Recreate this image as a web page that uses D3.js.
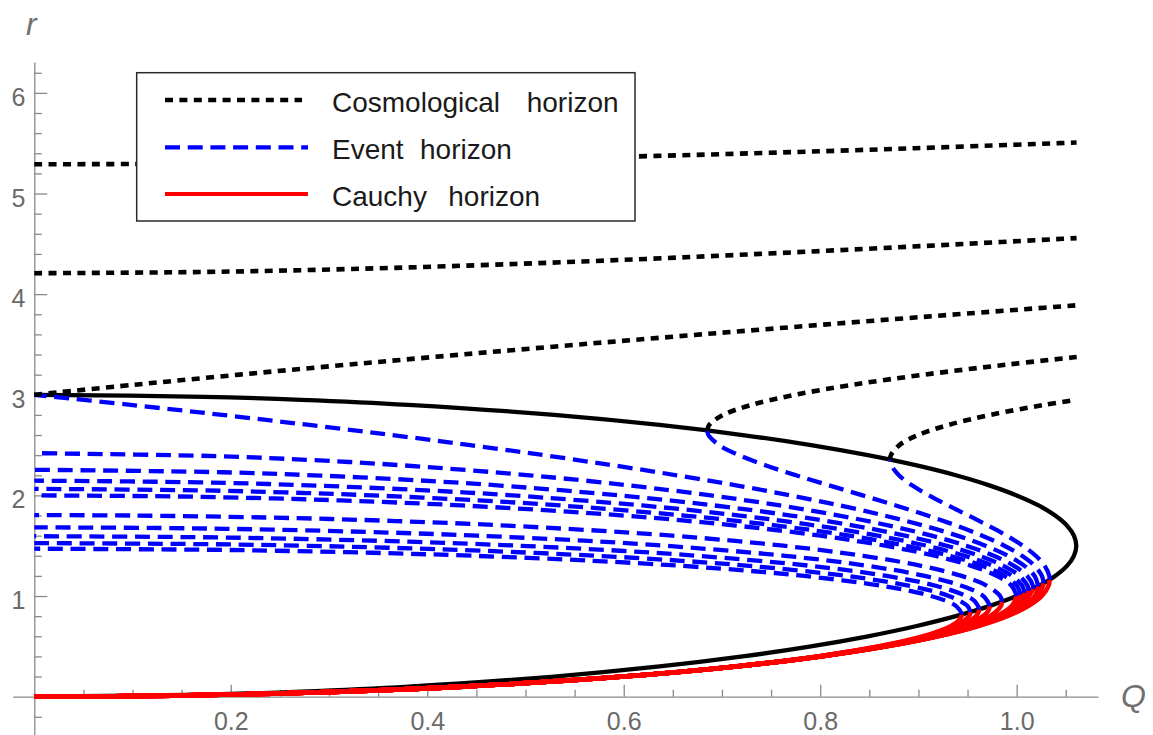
<!DOCTYPE html>
<html>
<head>
<meta charset="utf-8">
<script src="https://cdn.jsdelivr.net/npm/d3@7"></script>
<style>
  html, body { margin: 0; padding: 0; background: #fff; }
  svg { display: block; font-family: "Liberation Sans", Arial, sans-serif; }
</style>
</head>
<body>
<svg id="chart" width="1153" height="735"></svg>
<script>
// Horizons of the charged black hole (M = 1) versus charge Q, one branch set per cosmological constant.
// Every series is a list of [Q, r] points.

// Extremal locus where two horizons coincide
const extremal = [[0,0],[0.1726,0.02],[0.2716,0.05],[0.3808,0.1],[0.5292,0.2],[0.6364,0.3],[0.7211,0.4],[0.7906,0.5],[0.8485,0.6],[0.8972,0.7],[0.9381,0.8],[0.9721,0.9],[1.0,1.0],[1.0223,1.1],[1.0392,1.2],[1.0512,1.3],[1.0583,1.4],[1.0607,1.5],[1.0583,1.6],[1.0512,1.7],[1.0392,1.8],[1.0223,1.9],[1.0,2.0],[0.9721,2.1],[0.9381,2.2],[0.8972,2.3],[0.8485,2.4],[0.7906,2.5],[0.7211,2.6],[0.6364,2.7],[0.5292,2.8],[0.3808,2.9],[0.2716,2.95],[0.1726,2.98],[0,3.0]];

// Cauchy horizons
const cauchyAdS5 = [[0,0],[0.1411,0.01],[0.2431,0.03],[0.3122,0.05],[0.4359,0.1],[0.5998,0.2],[0.7132,0.3],[0.7973,0.4],[0.86,0.5],[0.9047,0.6],[0.9327,0.7],[0.9406,0.75],[0.9446,0.818]];
const cauchyAdS4 = [[0,0],[0.1411,0.01],[0.2431,0.03],[0.3122,0.05],[0.4359,0.1],[0.5998,0.2],[0.7134,0.3],[0.7979,0.4],[0.8612,0.5],[0.907,0.6],[0.937,0.7],[0.9515,0.8],[0.9529,0.8413]];
const cauchyAdS3 = [[0,0],[0.1411,0.01],[0.2431,0.03],[0.3122,0.05],[0.4359,0.1],[0.5999,0.2],[0.7136,0.3],[0.7984,0.4],[0.8624,0.5],[0.9094,0.6],[0.9413,0.7],[0.9587,0.8],[0.9622,0.869]];
const cauchyAdS2 = [[0,0],[0.1411,0.01],[0.2431,0.03],[0.3122,0.05],[0.4359,0.1],[0.5999,0.2],[0.7138,0.3],[0.7989,0.4],[0.8636,0.5],[0.9118,0.6],[0.9455,0.7],[0.9658,0.8],[0.9709,0.85],[0.9728,0.902]];
const cauchyAdS1 = [[0,0],[0.1411,0.01],[0.2431,0.03],[0.3122,0.05],[0.4359,0.1],[0.6,0.2],[0.714,0.3],[0.7995,0.4],[0.8648,0.5],[0.9142,0.6],[0.9497,0.7],[0.9728,0.8],[0.9839,0.9],[0.9851,0.944]];
const cauchyFlat = [[0,0],[0.1411,0.01],[0.2431,0.03],[0.3122,0.05],[0.4359,0.1],[0.6,0.2],[0.7141,0.3],[0.8,0.4],[0.866,0.5],[0.9165,0.6],[0.9539,0.7],[0.9798,0.8],[0.995,0.9],[1.0,1.0]];
const cauchyDS1 = [[0,0],[0.1411,0.01],[0.2431,0.03],[0.3122,0.05],[0.4359,0.1],[0.6,0.2],[0.7142,0.3],[0.8001,0.4],[0.8663,0.5],[0.917,0.6],[0.9549,0.7],[0.9813,0.8],[0.9974,0.9],[1.0038,1.0155]];
const cauchyDS2 = [[0,0],[0.1411,0.01],[0.2431,0.03],[0.3122,0.05],[0.4359,0.1],[0.6,0.2],[0.7143,0.3],[0.8002,0.4],[0.8666,0.5],[0.9176,0.6],[0.9558,0.7],[0.9829,0.8],[0.9999,0.9],[1.0079,1.0327]];
const cauchyDS3 = [[0,0],[0.1411,0.01],[0.2431,0.03],[0.3122,0.05],[0.4359,0.1],[0.6,0.2],[0.7143,0.3],[0.8004,0.4],[0.8668,0.5],[0.9181,0.6],[0.9567,0.7],[0.9844,0.8],[1.0023,0.9],[1.0122,1.0517]];
const cauchyDS4 = [[0,0],[0.1411,0.01],[0.2431,0.03],[0.3122,0.05],[0.4359,0.1],[0.6,0.2],[0.7143,0.3],[0.8005,0.4],[0.8671,0.5],[0.9186,0.6],[0.9577,0.7],[0.986,0.8],[1.0047,0.9],[1.0168,1.0733]];
const cauchyDS5 = [[0,0],[0.1411,0.01],[0.2431,0.03],[0.3122,0.05],[0.4359,0.1],[0.6,0.2],[0.7144,0.3],[0.8006,0.4],[0.8674,0.5],[0.9191,0.6],[0.9586,0.7],[0.9875,0.8],[1.0071,0.9],[1.0184,1.0],[1.0219,1.098]];
const cauchyDS6 = [[0,0],[0.1411,0.01],[0.2431,0.03],[0.3122,0.05],[0.4359,0.1],[0.6001,0.2],[0.7144,0.3],[0.8007,0.4],[0.8676,0.5],[0.9197,0.6],[0.9595,0.7],[0.989,0.8],[1.0095,0.9],[1.022,1.0],[1.0274,1.1275]];
const cauchyDS7 = [[0,0],[0.1411,0.01],[0.2431,0.03],[0.3122,0.05],[0.4359,0.1],[0.6001,0.2],[0.7144,0.3],[0.8008,0.4],[0.8679,0.5],[0.9202,0.6],[0.9604,0.7],[0.9906,0.8],[1.0119,0.9],[1.0256,1.0],[1.0324,1.1],[1.0336,1.163]];

// Event horizons
const eventAdS5 = [[0.9446,0.818],[0.9384,0.9],[0.9129,1.0],[0.8637,1.1],[0.7838,1.2],[0.7284,1.25],[0.6588,1.3],[0.5691,1.35],[0.4469,1.4],[0.3437,1.43],[0.2465,1.45],[0.1764,1.46],[0,1.4703]];
const eventAdS4 = [[0.9529,0.8413],[0.95,0.9],[0.9309,1.0],[0.8915,1.1],[0.8268,1.2],[0.7275,1.3],[0.6593,1.35],[0.5725,1.4],[0.4562,1.45],[0.3604,1.48],[0.2739,1.5],[0.1799,1.515],[0,1.5261]];
const eventAdS3 = [[0.9622,0.869],[0.9571,0.95],[0.9487,1.0],[0.9185,1.1],[0.8676,1.2],[0.7902,1.3],[0.6752,1.4],[0.5962,1.45],[0.4937,1.5],[0.382,1.54],[0.2599,1.57],[0.1632,1.585],[0,1.5946]];
const eventAdS2 = [[0.9728,0.902],[0.9661,1.0],[0.9447,1.1],[0.9065,1.2],[0.8483,1.3],[0.7641,1.4],[0.6423,1.5],[0.5592,1.55],[0.4507,1.6],[0.364,1.63],[0.2412,1.66],[0.14,1.675],[0,1.6825]];
const eventAdS1 = [[0.9851,0.944],[0.9832,1.0],[0.9702,1.1],[0.9439,1.2],[0.9027,1.3],[0.8438,1.4],[0.7624,1.5],[0.6493,1.6],[0.4812,1.7],[0.3534,1.75],[0.2387,1.78],[0.1004,1.8],[0,1.8042]];
const eventFlat = [[1.0,1.0],[0.995,1.1],[0.9798,1.2],[0.9539,1.3],[0.9165,1.4],[0.866,1.5],[0.8,1.6],[0.7141,1.7],[0.6,1.8],[0.4359,1.9],[0.3122,1.95],[0.2431,1.97],[0.1411,1.99],[0,2.0]];
const eventDS1 = [[1.0038,1.0155],[1.0004,1.1],[0.9876,1.2],[0.965,1.3],[0.9319,1.4],[0.8874,1.5],[0.8298,1.6],[0.7562,1.7],[0.6616,1.8],[0.5353,1.9],[0.4523,1.95],[0.3443,2.0],[0.2547,2.03],[0.1683,2.05],[0,2.0652]];
const eventDS2 = [[1.0079,1.0327],[1.0058,1.1],[0.9953,1.2],[0.9759,1.3],[0.9471,1.4],[0.9083,1.5],[0.8585,1.6],[0.7961,1.7],[0.718,1.8],[0.6189,1.9],[0.4869,2.0],[0.3989,2.05],[0.2795,2.1],[0.1675,2.13],[0,2.1465]];
const eventDS3 = [[1.0122,1.0517],[1.0112,1.1],[1.003,1.2],[0.9866,1.3],[0.962,1.4],[0.9287,1.5],[0.8864,1.6],[0.834,1.7],[0.7702,1.8],[0.6925,1.9],[0.5963,2.0],[0.4714,2.1],[0.3903,2.15],[0.2838,2.2],[0.1914,2.23],[0,2.2547]];
const eventDS4 = [[1.0168,1.0733],[1.0166,1.1],[1.0107,1.2],[0.9973,1.3],[0.9766,1.4],[0.9487,1.5],[0.9133,1.6],[0.8703,1.7],[0.8192,1.8],[0.759,1.9],[0.6885,2.0],[0.6052,2.1],[0.5041,2.2],[0.373,2.3],[0.2849,2.35],[0.1862,2.39],[0,2.4199]];
const eventDS5 = [[1.0219,1.098],[1.0182,1.2],[1.0079,1.3],[0.9911,1.4],[0.9682,1.5],[0.9395,1.6],[0.9052,1.7],[0.8653,1.8],[0.8202,1.9],[0.7698,2.0],[0.7144,2.1],[0.6539,2.2],[0.5886,2.3],[0.5185,2.4],[0.4436,2.5],[0.364,2.6],[0.2798,2.7],[0.1911,2.8],[0.0978,2.9],[0,3.0]];
const eventDS6 = [[1.0274,1.1275],[1.0257,1.2],[1.0183,1.3],[1.0054,1.4],[0.9874,1.5],[0.965,1.6],[0.9387,1.7],[0.9092,1.8],[0.877,1.9],[0.8433,2.0],[0.8089,2.1],[0.7753,2.2],[0.7441,2.3],[0.7173,2.4],[0.6972,2.5],[0.6863,2.6],[0.685,2.645]];
const eventDS7 = [[1.0336,1.163],[1.0332,1.2],[1.0286,1.3],[1.0194,1.4],[1.0062,1.5],[0.9899,1.6],[0.9711,1.7],[0.951,1.8],[0.9304,1.9],[0.9108,2.0],[0.8935,2.1],[0.8801,2.2],[0.8724,2.3],[0.8711,2.356]];

// Cosmological horizons (only those below r = 6.3)
const cosmoDS3 = [[0,5.2904],[0.146,5.295],[0.2107,5.3],[0.3717,5.32],[0.532,5.35],[0.7319,5.4],[0.896,5.45],[1.0415,5.5],[1.061,5.507]];
const cosmoDS4 = [[0,4.2084],[0.1683,4.22],[0.3229,4.25],[0.4897,4.3],[0.6219,4.35],[0.7386,4.4],[0.8464,4.45],[0.9487,4.5],[1.0472,4.55],[1.061,4.557]];
const cosmoDS5 = [[0,3.0],[0.1022,3.1],[0.2088,3.2],[0.3198,3.3],[0.4352,3.4],[0.5549,3.5],[0.6788,3.6],[0.8071,3.7],[0.9395,3.8],[1.0073,3.85],[1.061,3.889]];
const cosmoDS6 = [[0.685,2.645],[0.687,2.7],[0.7013,2.8],[0.7304,2.9],[0.7746,3.0],[0.8334,3.1],[0.9057,3.2],[0.9903,3.3],[1.0562,3.37],[1.0611,3.375]];
const cosmoDS7 = [[0.8711,2.356],[0.872,2.4],[0.8806,2.5],[0.8997,2.6],[0.9304,2.7],[0.9732,2.8],[1.0283,2.9],[1.0604,2.95]];

const cauchyBranches = [cauchyAdS5, cauchyAdS4, cauchyAdS3, cauchyAdS2, cauchyAdS1, cauchyFlat,
                        cauchyDS1, cauchyDS2, cauchyDS3, cauchyDS4, cauchyDS5, cauchyDS6, cauchyDS7];
const eventBranches = [eventAdS5, eventAdS4, eventAdS3, eventAdS2, eventAdS1, eventFlat,
                       eventDS1, eventDS2, eventDS3, eventDS4, eventDS5, eventDS6, eventDS7];
const cosmoBranches = [cosmoDS3, cosmoDS4, cosmoDS5, cosmoDS6, cosmoDS7];

// Ticks
const xTickValues = [0.2, 0.4, 0.6, 0.8, 1.0];
const xTickLabels = ["0.2", "0.4", "0.6", "0.8", "1.0"];
const yTickValues = [1, 2, 3, 4, 5, 6];
const yTickLabels = ["1", "2", "3", "4", "5", "6"];

const legendLabels = [["Cosmological", "horizon"], ["Event", "horizon"], ["Cauchy", "horizon"]];

// ---------------------------------------------------------------
const svg = d3.select("#chart");

const x = d3.scaleLinear().domain([-0.0219, 1.0828]).range([12.8, 1098]);
const y = d3.scaleLinear().domain([-0.381, 6.307]).range([735, 62]);

const axisColor = "#8a8a8a";
const tickTextColor = "#6a6a6a";

const xMinor = d3.range(1, 22).map(i => i * 0.05).filter(v => Math.abs(v / 0.2 - Math.round(v / 0.2)) > 1e-6);
const yMinor = d3.range(-1, 32).map(i => i * 0.2).filter(v => Math.abs(v - Math.round(v)) > 1e-6);

function styleAxis(g) {
  g.selectAll("path.domain").attr("stroke", axisColor).attr("stroke-width", 1.3);
  g.selectAll(".tick line").attr("stroke", axisColor).attr("stroke-width", 1.3);
  g.selectAll(".tick text")
    .attr("fill", tickTextColor)
    .attr("font-family", "'Liberation Sans', Arial, sans-serif")
    .attr("font-size", 25);
  g.attr("font-family", null).attr("font-size", null);
}

// x axis (ticks point upward)
const gx = svg.append("g").attr("transform", `translate(0,${y(0)})`);
gx.call(d3.axisBottom(x).tickValues(xTickValues)
  .tickFormat((d, i) => xTickLabels[i]).tickSizeInner(-12).tickSizeOuter(0).tickPadding(15.5));
styleAxis(gx);
const gxMinor = svg.append("g").attr("transform", `translate(0,${y(0)})`);
gxMinor.call(d3.axisBottom(x).tickValues(xMinor).tickFormat("").tickSizeInner(-7).tickSizeOuter(0));
gxMinor.select("path.domain").remove();
styleAxis(gxMinor);

// y axis (ticks point right)
const gy = svg.append("g").attr("transform", `translate(${x(0)},0)`);
gy.call(d3.axisLeft(y).tickValues(yTickValues)
  .tickFormat((d, i) => yTickLabels[i]).tickSizeInner(-13).tickSizeOuter(0).tickPadding(8.8));
styleAxis(gy);
gy.selectAll(".tick text").attr("dy", "0.5em");
const gyMinor = svg.append("g").attr("transform", `translate(${x(0)},0)`);
gyMinor.call(d3.axisLeft(y).tickValues(yMinor).tickFormat("").tickSizeInner(-7.5).tickSizeOuter(0));
gyMinor.select("path.domain").remove();
styleAxis(gyMinor);

// axis labels
svg.append("text").attr("x", 26).attr("y", 35)
  .attr("font-family", "'Liberation Sans', Arial, sans-serif")
  .attr("font-style", "italic").attr("font-size", 32).attr("fill", "#707070").text("r");
svg.append("text").attr("x", 1121).attr("y", 707)
  .attr("font-family", "'Liberation Sans', Arial, sans-serif")
  .attr("font-style", "italic").attr("font-size", 32).attr("fill", "#707070").text("Q");

// curves
const line = d3.line().x(d => x(d[0])).y(d => y(d[1])).curve(d3.curveCatmullRom.alpha(0.5));

const styles = {
  cosmo:  { stroke: "#000000", width: 4.6, dash: "8,6.4" },
  event:  { stroke: "#0000ff", width: 4.3, dash: "15,7.7" },
  cauchy: { stroke: "#ff0000", width: 4.6, dash: null }
};

const plot = svg.append("g");

plot.append("path").datum(extremal)
  .attr("d", line).attr("fill", "none").attr("stroke", "#000").attr("stroke-width", 4.3);

function drawSet(data, st) {
  plot.append("g").selectAll("path").data(data).join("path")
    .attr("d", line).attr("fill", "none")
    .attr("stroke", st.stroke).attr("stroke-width", st.width)
    .attr("stroke-dasharray", st.dash).attr("stroke-linecap", "butt");
}
drawSet(cauchyBranches, styles.cauchy);
drawSet(eventBranches, styles.event);
drawSet(cosmoBranches, styles.cosmo);

// legend
const lg = svg.append("g");
lg.append("rect").attr("x", 136.7).attr("y", 72.7).attr("width", 498.3).attr("height", 148.3)
  .attr("fill", "#fff").attr("stroke", "#2a2a2a").attr("stroke-width", 1.5);
const legendRows = [
  { st: styles.cosmo, y: 100, x2: 302, words: legendLabels[0], wx: [332, 526.7] },
  { st: styles.event, y: 147.3, x2: 308, words: legendLabels[1], wx: [332, 420] },
  { st: { stroke: "#ff0000", width: 4.2, dash: null }, y: 194, x2: 308, words: legendLabels[2], wx: [332, 448.3] }
];
legendRows.forEach(row => {
  lg.append("line").attr("x1", 165).attr("x2", row.x2).attr("y1", row.y).attr("y2", row.y)
    .attr("stroke", row.st.stroke).attr("stroke-width", row.st.width)
    .attr("stroke-dasharray", row.st.dash).attr("stroke-linecap", "butt");
  const t = lg.append("text").attr("y", row.y + 12)
    .attr("font-family", "'Liberation Sans', Arial, sans-serif")
    .attr("font-size", 28).attr("fill", "#1a1a1a");
  row.words.forEach((w, i) => t.append("tspan").attr("x", row.wx[i]).text(w));
});
</script>
</body>
</html>
